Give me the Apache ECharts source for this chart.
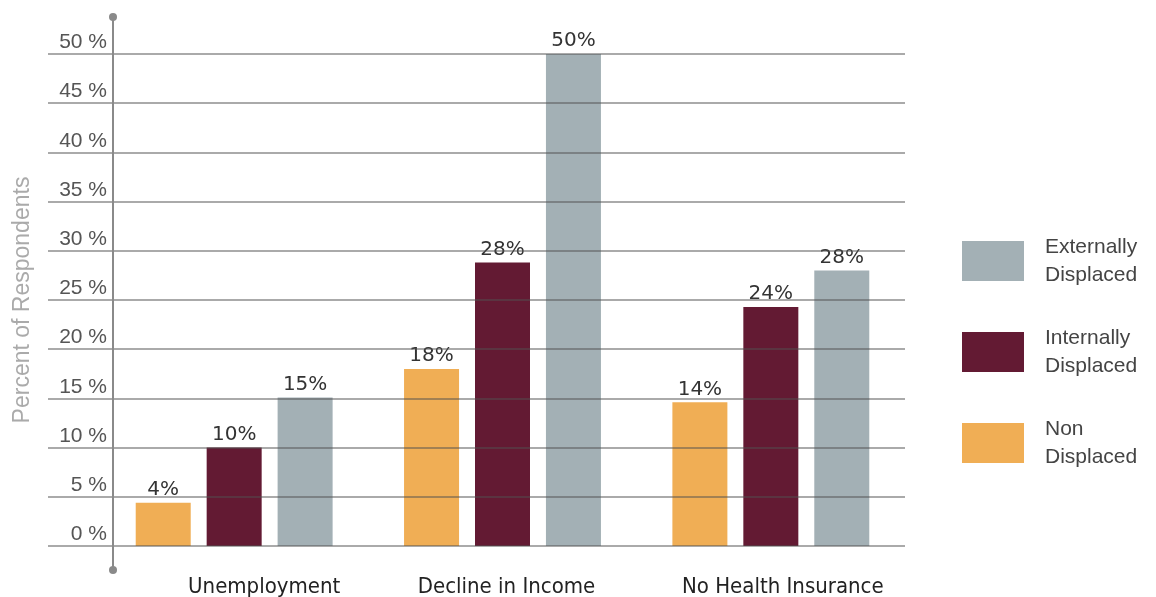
<!DOCTYPE html>
<html>
<head>
<meta charset="utf-8">
<script src="https://cdn.jsdelivr.net/npm/echarts@6/dist/echarts.min.js"></script>
<style>
  html, body { margin: 0; padding: 0; background: #fff; }
  #chart { width: 1156px; height: 597px; }
</style>
</head>
<body>
<div id="chart"></div>
<script>
// categories and series values (bar heights)
const categories = ['Unemployment', 'Decline in Income', 'No Health Insurance']
const nonDisplaced = [4.4, 18, 14.6]
const internallyDisplaced = [10, 28.8, 24.3]
const externallyDisplaced = [15.1, 50, 28]
// printed labels above the bars
const nonLabels = ['4%', '18%', '14%']
const internalLabels = ['10%', '28%', '24%']
const externalLabels = ['15%', '50%', '28%']
const yTicks = [0, 5, 10, 15, 20, 25, 30, 35, 40, 45, 50]

const seriesNames = ['Non\nDisplaced', 'Internally\nDisplaced', 'Externally\nDisplaced']
const colors = ['#F0AE55', '#631A33', '#A3B0B5']
// category labels sit a little right of their bar groups in the original
const categoryShift = [60, 8, 24]

const chart = echarts.init(document.getElementById('chart'), null, { renderer: 'canvas' })

const makeBar = (name, data, labels, color) => ({
  name,
  type: 'bar',
  xAxisIndex: 0,
  yAxisIndex: 0,
  data,
  barWidth: 55,
  barGap: '29%',
  itemStyle: { color },
  label: {
    show: true,
    position: 'top',
    distance: 3,
    color: '#333',
    fontFamily: 'DejaVu Sans',
    fontSize: 20,
    formatter: p => labels[p.dataIndex]
  }
})

chart.setOption({
  animation: false,
  grid: [
    { left: 100, right: 251, top: 54, bottom: 51, outerBoundsMode: 'none' },   // bars
    { left: 48, right: 251, top: 54, bottom: 51, outerBoundsMode: 'none' },    // grid lines
    { left: 113, right: 251, top: 17, bottom: 27, outerBoundsMode: 'none' }    // axis line with dots
  ],
  legend: {
    orient: 'vertical',
    left: 957,
    top: 224,
    itemWidth: 62,
    itemHeight: 40,
    itemGap: 27,
    icon: 'rect',
    data: [seriesNames[2], seriesNames[1], seriesNames[0]],
    textStyle: {
      fontFamily: 'Liberation Sans',
      fontSize: 21,
      lineHeight: 28,
      color: '#444',
      padding: [8, 0, 0, 16]
    }
  },
  xAxis: [
    {
      type: 'category',
      gridIndex: 0,
      data: categories.map((c, i) => ({
        value: c,
        textStyle: { padding: [0, 0, 0, categoryShift[i]] }
      })),
      axisLine: { show: false },
      axisTick: { show: false },
      axisLabel: {
        margin: 30,
        fontFamily: 'DejaVu Sans Condensed',
        fontSize: 22,
        color: '#222'
      }
    },
    { type: 'value', gridIndex: 1, min: 0, max: 1, show: false },
    { type: 'value', gridIndex: 2, min: 0, max: 1, show: false }
  ],
  yAxis: [
    {
      type: 'value',
      gridIndex: 0,
      min: yTicks[0],
      max: yTicks[yTicks.length - 1],
      interval: 5,
      axisLine: { show: false },
      axisTick: { show: false },
      splitLine: { show: false },
      axisLabel: {
        margin: -7,
        verticalAlign: 'bottom',
        padding: [0, 0, 1, 0],
        fontFamily: 'Liberation Sans',
        fontSize: 21,
        color: '#555',
        formatter: v => v + ' %'
      }
    },
    {
      type: 'value',
      gridIndex: 1,
      min: yTicks[0],
      max: yTicks[yTicks.length - 1],
      interval: 5,
      z: 5,
      name: 'Percent of Respondents',
      nameLocation: 'middle',
      nameGap: 14,
      nameTextStyle: {
        fontFamily: 'Liberation Sans',
        fontSize: 23,
        color: '#aaa'
      },
      axisLine: { show: false },
      axisTick: { show: false },
      axisLabel: { show: false },
      splitLine: { show: true, lineStyle: { color: 'rgba(80,80,80,0.65)', width: 1.5 } }
    },
    {
      type: 'value',
      gridIndex: 2,
      min: 0,
      max: 1,
      z: 6,
      axisLine: {
        show: true,
        symbol: ['circle', 'circle'],
        symbolSize: [8, 8],
        lineStyle: { color: '#8a8a8a', width: 2 }
      },
      axisTick: { show: false },
      axisLabel: { show: false },
      splitLine: { show: false }
    }
  ],
  series: [
    makeBar(seriesNames[0], nonDisplaced, nonLabels, colors[0]),
    makeBar(seriesNames[1], internallyDisplaced, internalLabels, colors[1]),
    makeBar(seriesNames[2], externallyDisplaced, externalLabels, colors[2])
  ]
})
</script>
</body>
</html>
